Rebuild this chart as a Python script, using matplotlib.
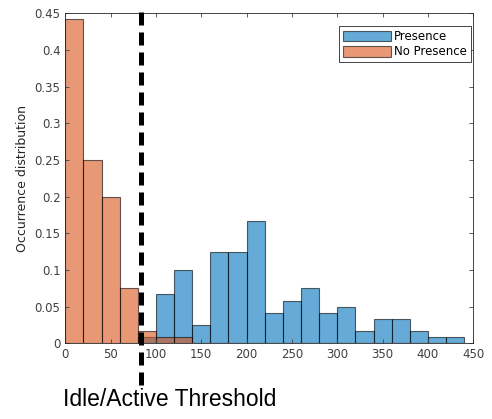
import matplotlib
matplotlib.use("Agg")
import matplotlib.pyplot as plt
import numpy as np
from matplotlib.ticker import FuncFormatter

# bin edges (width 20) and counts per bin, normalised as probability
edges = np.arange(0, 460, 20)
presence_counts = [0, 0, 0, 0, 1, 8, 12, 3, 15, 15, 20, 5, 7, 9, 5, 6, 2, 4, 4, 2, 1, 1]
no_presence_counts = [53, 30, 24, 9, 2, 1, 1, 0, 0, 0, 0, 0, 0, 0, 0, 0, 0, 0, 0, 0, 0, 0]
n_samples = 120
threshold = 83

presence = np.array(presence_counts) / n_samples
no_presence = np.array(no_presence_counts) / n_samples

blue = (0, 0.447, 0.741)
orange = (0.85, 0.325, 0.098)

plt.rcParams['font.family'] = ['DejaVu Sans']

fig = plt.figure(figsize=(4.92, 4.19), dpi=100)
ax = fig.add_axes([0.1327, 0.1807, 0.8293, 0.7875])

left = edges[:-1]
ax.bar(left, presence, width=20, align="edge", color=blue, alpha=0.6,
       edgecolor="black", linewidth=0.8, label="Presence")
ax.bar(left, no_presence, width=20, align="edge", color=orange, alpha=0.6,
       edgecolor="black", linewidth=0.8, label="No Presence")

ax.set_xlim(0, 450)
ax.set_ylim(0, 0.45)
ax.set_xticks(np.arange(0, 451, 50))
ax.set_yticks(np.arange(0, 0.451, 0.05))
ax.yaxis.set_major_formatter(FuncFormatter(lambda v, p: "%g" % round(v, 2)))
ax.tick_params(direction="in", top=True, right=True, labelsize=8.5,
               colors="#404040", length=3, width=0.6)
for s in ax.spines.values():
    s.set_linewidth(0.6)
    s.set_color("#262626")
ax.set_ylabel("Occurrence distribution", fontsize=9, color="#262626")

leg = ax.legend(loc="upper right", bbox_to_anchor=(0.995, 0.962), fontsize=8.5,
                fancybox=False, framealpha=1, edgecolor="#262626",
                handlelength=4.0, handleheight=1.0, borderpad=0.35,
                labelspacing=0.2, handletextpad=0.3, borderaxespad=0)
leg.get_frame().set_linewidth(0.6)

# threshold dashed line, extending below the axes
ax.plot([threshold, threshold], [0.452, -0.065], color="black", lw=3.6,
        linestyle=(0, (2.6, 1.4)), clip_on=False, zorder=5)

fig.text(0.128, 0.032, "Idle/Active Threshold", fontsize=16.5,
         family=["Liberation Sans", "DejaVu Sans"], color="black")

plt.savefig("out.png", dpi=100)
